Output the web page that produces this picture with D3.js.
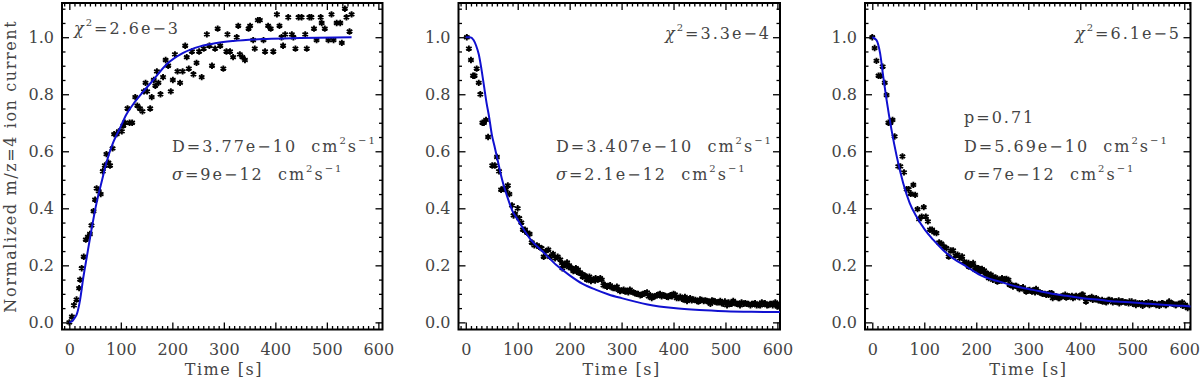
<!DOCTYPE html>
<html><head><meta charset="utf-8">
<script src="https://cdn.jsdelivr.net/npm/d3@7"></script>
<style>
html,body{margin:0;padding:0;background:#fff;}
svg text{font-family:"DejaVu Serif",serif;fill:#444;}
</style></head>
<body><svg id="c" width="1200" height="381"></svg>
<script>
const xTicks = [0,100,200,300,400,500,600];
const yTicks = [0,0.2,0.4,0.6,0.8,1.0];

const p1T = [0,5,9,14,19,21,24,28,32,36,40,43,47,50,53,57,61,65,69,72,76,79,84,87,92,96,102,105,108,113,117,122,128,132,137,142,145,148,151,157,160,164,167,170,173,177,182,187,192,197,201,205,210,215,220,225,228,232,238,241,247,252,257,261,267,272,277,283,288,293,299,305,307,312,318,325,328,331,336,341,348,351,357,360,366,370,377,380,386,391,396,403,408,412,415,419,425,432,435,439,445,451,458,461,466,470,475,480,488,490,496,503,509,513,519,526,529,535,538,544,548];
const p1V = [0.00,0.02,0.06,0.08,0.12,0.15,0.19,0.23,0.29,0.30,0.31,0.34,0.39,0.43,0.47,0.46,0.45,0.53,0.55,0.59,0.56,0.55,0.61,0.66,0.66,0.67,0.67,0.69,0.70,0.75,0.70,0.70,0.79,0.76,0.75,0.74,0.81,0.84,0.81,0.75,0.79,0.85,0.83,0.88,0.84,0.80,0.86,0.92,0.90,0.81,0.85,0.94,0.88,0.84,0.88,0.97,0.93,0.89,0.95,0.87,0.91,0.95,0.86,0.96,1.01,0.97,0.90,0.96,1.03,0.97,0.89,0.95,1.01,0.95,0.93,1.00,1.04,0.94,0.93,0.92,1.03,1.04,0.99,0.96,1.06,1.06,0.99,0.95,1.04,1.03,0.95,1.08,1.04,1.00,0.97,1.01,1.07,1.01,1.00,0.96,1.07,1.07,1.01,0.96,1.07,1.07,1.03,0.99,1.07,1.05,1.03,0.99,1.08,0.99,1.05,1.05,0.98,1.10,1.07,1.02,1.08];
const fit1T = [0,5,10,14,21,27,34,43,53,63,72,85,98,111,124,144,163,189,221,254,286,318,383,448,548];
const fit1V = [0,0.003,0.015,0.026,0.08,0.155,0.23,0.325,0.42,0.495,0.56,0.63,0.68,0.73,0.765,0.81,0.85,0.905,0.945,0.968,0.98,0.987,0.994,0.997,1.0];

const p2T = [2,6,10,14,17,21,25,28,32,35,39,43,51,56,60,64,68,73,77,81,84,89,92,95,100,103,107,110,114,118,123,127,132,137,141,146,150,154,159,162,168,172,177,182,186,190,195,199,203,207,212,216,220,225,229,233,238,241,246,250,254,259,265,272,278,284,291,297,304,310,316,323,329,336,342,349,355,361,368,374,381,387,394,400,406,413,419,426,432,438,445,451,458,464,471,477,483,490,496,503,509,515,522,528,535,541,548,554,560,567,573,580,586,591,596,600,604];
const p2V = [1.00,0.96,0.92,0.865,0.865,0.89,0.84,0.80,0.70,0.70,0.71,0.65,0.55,0.55,0.58,0.53,0.465,0.47,0.465,0.48,0.45,0.41,0.375,0.38,0.40,0.365,0.35,0.325,0.325,0.315,0.31,0.28,0.27,0.27,0.265,0.26,0.23,0.25,0.255,0.23,0.24,0.225,0.23,0.22,0.19,0.20,0.21,0.20,0.19,0.18,0.19,0.185,0.175,0.16,0.165,0.15,0.16,0.145,0.15,0.155,0.15,0.155,0.13,0.125,0.13,0.12,0.125,0.11,0.115,0.11,0.115,0.105,0.10,0.095,0.10,0.105,0.095,0.09,0.095,0.10,0.095,0.09,0.095,0.10,0.085,0.09,0.08,0.075,0.085,0.08,0.075,0.08,0.075,0.075,0.065,0.075,0.07,0.075,0.065,0.06,0.065,0.075,0.065,0.06,0.065,0.065,0.06,0.065,0.06,0.06,0.065,0.06,0.065,0.06,0.065,0.055,0.06];
// additional tail readings (same measurement is shown in panels 2 and 3)
const tailT = [185,191,198,204,210,217,223,230,236,243,249,255,262,268,275,281,287,294,300,307,313,319,326,332,339,345,352,358,364,371,377,384,390,397,403,410,416,422,429,435,442,448,454,461,467,474,480,486,493,499,506,512,519,525,531,538,544,551,557,564,570,576,583,589,596,602];
const tailV = [0.208,0.202,0.194,0.19,0.182,0.175,0.17,0.161,0.155,0.149,0.147,0.151,0.149,0.131,0.128,0.123,0.12,0.114,0.112,0.108,0.105,0.108,0.102,0.1,0.097,0.102,0.091,0.085,0.091,0.097,0.091,0.093,0.089,0.091,0.097,0.085,0.085,0.089,0.081,0.077,0.079,0.073,0.079,0.077,0.073,0.077,0.073,0.07,0.067,0.073,0.07,0.065,0.067,0.065,0.07,0.067,0.065,0.065,0.067,0.061,0.07,0.067,0.061,0.065,0.07,0.061];
const fit2T = [0,8,15,20,25,30,35,40,45,50,55,60,70,80,90,100,110,125,150,175,200,225,250,275,300,350,400,450,500,550,620];
const fit2V = [1,1,0.99,0.97,0.94,0.89,0.83,0.77,0.72,0.66,0.62,0.58,0.50,0.44,0.39,0.36,0.33,0.29,0.245,0.20,0.165,0.135,0.115,0.098,0.085,0.063,0.05,0.043,0.039,0.037,0.036];

const p3T = [0,4.5,8,12,16,20,24,27.5,31,35,39,43,50,54,58,61,66,70,74,79,82.5,87,90,95,99,103,107,111,115,119,123.5,128.6,133,137.6,142.7,147,151,155.5,160,164,168,172.7,176.6,181,185.5,189.4,194,198,202,206.7,211,215,219,224,228,232,237,240.6,245,249.5,254,258,264,270.6,277,283,290,296,302.6,309,315,322,328,334.5,341,347,354,360,366.6,373,379,386,392,398.6,405,411,418,424,430.6,437,443,450,456,462.6,469,475,481.8,488,494.6,501,507,514,520,526.5,533,539,546,552,558.5,565,571,578,584,590.5,597,603,606.5];
const p3V = [1.0,0.962,0.917,0.865,0.865,0.897,0.84,0.797,0.70,0.70,0.71,0.652,0.547,0.547,0.582,0.526,0.467,0.467,0.451,0.482,0.447,0.397,0.362,0.371,0.404,0.371,0.354,0.325,0.325,0.316,0.313,0.28,0.276,0.266,0.26,0.231,0.252,0.252,0.234,0.237,0.225,0.231,0.213,0.208,0.196,0.202,0.208,0.184,0.19,0.178,0.187,0.182,0.17,0.155,0.167,0.149,0.158,0.143,0.146,0.155,0.149,0.152,0.132,0.126,0.128,0.117,0.123,0.108,0.114,0.112,0.117,0.105,0.1,0.097,0.102,0.085,0.091,0.085,0.093,0.087,0.091,0.085,0.093,0.088,0.097,0.073,0.085,0.079,0.085,0.077,0.073,0.07,0.079,0.07,0.073,0.067,0.073,0.07,0.073,0.065,0.061,0.067,0.058,0.067,0.061,0.065,0.061,0.058,0.067,0.061,0.073,0.065,0.061,0.065,0.058,0.056,0.05];
const fit3T = [0,8,15,21,27.5,37,47,59.5,72,85,101,117,136,155,181,213,245,277,309,341,373,405,437,469,501,533,565,597,620];
const fit3V = [1,0.99,0.944,0.863,0.78,0.675,0.582,0.488,0.418,0.371,0.325,0.29,0.254,0.225,0.196,0.161,0.143,0.126,0.114,0.102,0.093,0.085,0.079,0.073,0.07,0.065,0.061,0.058,0.055];

const chiLabels = ["2.6e\u22123","3.3e\u22124","6.1e\u22125"];
const pLabels = [null,null,"0.71"];
const dLabels = ["3.77e\u221210","3.407e\u221210","5.69e\u221210"];
const sLabels = ["9e\u221212","2.1e\u221212","7e\u221212"];
const xTitle = "Time [s]";
const yTitle = "Normalized m/z=4 ion current";

const svg = d3.select("#c");
const yTop = 3, yBot = 329.5;
const panels = [
  {l:62, r:382.5, dom:[-14.2,608], T:p1T, V:p1V, T2:[], V2:[], fT:fit1T, fV:fit1V, chi:{x:74,y:34,anchor:"start"}, txtX:172},
  {l:458.5, r:780, dom:[-14,605], T:p2T, V:p2V, T2:tailT, V2:tailV, fT:fit2T, fV:fit2V, chi:{x:771,y:39,anchor:"end"}, txtX:556},
  {l:865, r:1190.5, dom:[-14,612], T:p3T, V:p3V, T2:tailT, V2:tailV, fT:fit3T, fV:fit3V, chi:{x:1181,y:39,anchor:"end"}, txtX:964}
];
const xMinor = d3.range(-10, 611, 10).filter(v => v % 100 !== 0);
const yMinor = d3.range(0, 23).map(k => +(k*0.05).toFixed(2)).filter(v => Math.round(v*100) % 20 !== 0);
const LS = "2px";

panels.forEach((p, i) => {
  const x = d3.scaleLinear().domain(p.dom).range([p.l, p.r]);
  const y = d3.scaleLinear().domain([-0.025, 1.12]).range([yBot, yTop]);
  const g = svg.append("g");
  const cid = "clip" + i;
  svg.append("clipPath").attr("id", cid).append("rect")
    .attr("x", p.l).attr("y", yTop).attr("width", p.r - p.l).attr("height", yBot - yTop);

  const mk = (axisFn, horiz, pos, vals, size, fmt, pad) => {
    const a = axisFn(horiz ? x : y)
      .tickValues(vals.filter(v => horiz ? (v >= p.dom[0] && v <= p.dom[1]) : true))
      .tickSize(-size).tickPadding(pad).tickFormat(fmt);
    const ag = g.append("g").attr("transform", pos).call(a);
    ag.select(".domain").remove();
    ag.selectAll("line").attr("stroke", "#000").attr("stroke-width", 1.3);
    ag.selectAll("text").attr("font-size", 16).attr("fill", "#444")
      .style("font-family", "DejaVu Serif, serif");
    return ag;
  };
  const none = () => "";
  mk(d3.axisBottom, true, `translate(0,${yBot})`, xTicks, 7, d3.format("d"), 14);
  mk(d3.axisBottom, true, `translate(0,${yBot})`, xMinor, 3.5, none, 0);
  mk(d3.axisTop, true, `translate(0,${yTop})`, xTicks, 7, none, 0);
  mk(d3.axisTop, true, `translate(0,${yTop})`, xMinor, 3.5, none, 0);
  mk(d3.axisLeft, false, `translate(${p.l},0)`, yTicks, 7, d3.format(".1f"), 8);
  mk(d3.axisLeft, false, `translate(${p.l},0)`, yMinor, 3.5, none, 0);
  mk(d3.axisRight, false, `translate(${p.r},0)`, yTicks, 7, none, 0);
  mk(d3.axisRight, false, `translate(${p.r},0)`, yMinor, 3.5, none, 0);

  g.append("rect").attr("x", p.l).attr("y", yTop).attr("width", p.r - p.l).attr("height", yBot - yTop)
    .attr("fill", "none").attr("stroke", "#000").attr("stroke-width", 2);

  const pts = d3.zip(p.T, p.V).concat(d3.zip(p.T2, p.V2));
  const sym = d3.symbol().type(d3.symbolAsterisk || d3.symbolCross).size(28);
  g.append("g").attr("clip-path", `url(#${cid})`).selectAll("path").data(pts).join("path")
    .attr("d", sym).attr("transform", d => `translate(${x(d[0])},${y(d[1])})`)
    .attr("fill", "#000").attr("stroke", "#000").attr("stroke-width", 1.9);

  const line = d3.line().x(d => x(d[0])).y(d => y(d[1])).curve(d3.curveMonotoneX);
  g.append("path").attr("clip-path", `url(#${cid})`).datum(d3.zip(p.fT, p.fV))
    .attr("d", line).attr("fill", "none").attr("stroke", "#1010d0").attr("stroke-width", 2);

  g.append("text").attr("x", (x(0) + x(600)) / 2).attr("y", 375).attr("text-anchor", "middle")
    .attr("font-size", 16).style("letter-spacing", "1.5px").text(xTitle);

  const ct = g.append("text").attr("x", p.chi.x).attr("y", p.chi.y).attr("text-anchor", p.chi.anchor)
    .attr("font-size", 16).style("letter-spacing", LS);
  ct.append("tspan").attr("font-style", "italic").text("\u03C7");
  ct.append("tspan").attr("font-size", 10).attr("dy", -8).text("2");
  ct.append("tspan").attr("dy", 8).text("=" + chiLabels[i]);

  const unit = (t) => {
    t.append("tspan").text("  cm");
    t.append("tspan").attr("font-size", 10).attr("dy", -8).text("2");
    t.append("tspan").attr("dy", 8).text("s");
    t.append("tspan").attr("font-size", 10).attr("dy", -8).text("\u22121");
  };
  if (pLabels[i]) {
    g.append("text").attr("x", p.txtX).attr("y", 123).attr("font-size", 16)
      .style("letter-spacing", LS).text("p=" + pLabels[i]);
  }
  const dt = g.append("text").attr("x", p.txtX).attr("y", 152).attr("font-size", 16)
    .style("letter-spacing", LS).style("white-space", "pre");
  dt.append("tspan").text("D=" + dLabels[i]);
  unit(dt);
  const st = g.append("text").attr("x", p.txtX).attr("y", 180).attr("font-size", 16)
    .style("letter-spacing", LS).style("white-space", "pre");
  st.append("tspan").attr("font-style", "italic").text("\u03C3");
  st.append("tspan").text("=" + sLabels[i]);
  unit(st);
});

svg.append("text").attr("transform", `translate(16,${(yTop + yBot) / 2}) rotate(-90)`)
  .attr("text-anchor", "middle").attr("font-size", 16).style("letter-spacing", "1.6px").text(yTitle);
</script></body></html>
